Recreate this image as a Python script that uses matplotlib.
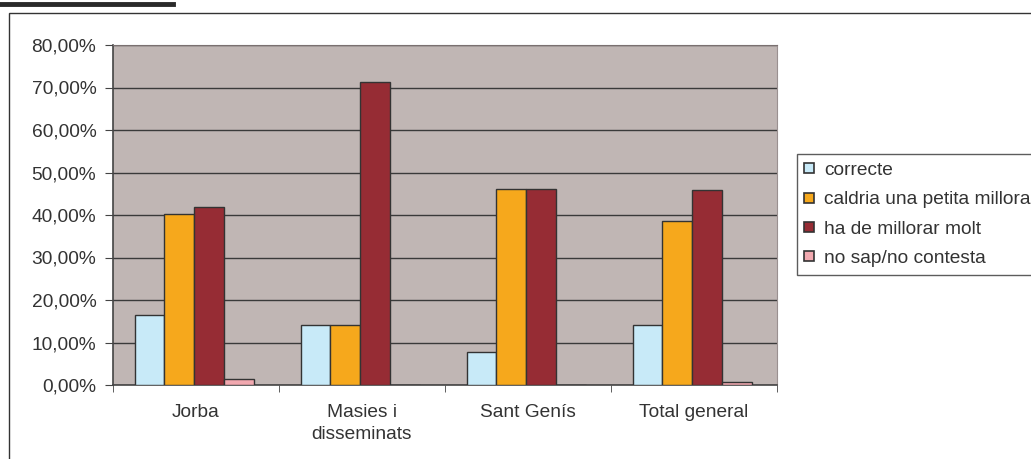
import numpy as np
import matplotlib.pyplot as plt
from matplotlib.patches import Rectangle
from matplotlib.lines import Line2D

plt.rcParams['font.family'] = ['Liberation Sans', 'DejaVu Sans']

categories = ["Jorba", "Masies i\ndisseminats", "Sant Genís", "Total general"]
series_names = ["correcte", "caldria una petita millora", "ha de millorar molt", "no sap/no contesta"]
correcte = [16.4, 14.2, 7.7, 14.2]
petita = [40.3, 14.2, 46.1, 38.5]
molt = [41.8, 71.4, 46.1, 46.0]
no_sap = [1.4, 0.0, 0.0, 0.8]
colors = ["#C8EAF8", "#F6A81C", "#962C34", "#F2A9B0"]
yticks = [0, 10, 20, 30, 40, 50, 60, 70, 80]

fs = 13.8
txt = "#333333"

fig = plt.figure(figsize=(10.31, 4.59), dpi=100)
ax = fig.add_axes([113 / 1031, 1 - 385 / 459, 664 / 1031, 340 / 459])
ax.set_facecolor("#C0B6B4")

x = np.arange(len(categories))
w = 0.18
data = [correcte, petita, molt, no_sap]
for i, vals in enumerate(data):
    ax.bar(x - 0.5 + 0.13 + w * (i + 0.5), vals, w, color=colors[i],
           edgecolor="#333333", linewidth=1.0, label=series_names[i], zorder=3)

ax.set_xlim(-0.5, len(categories) - 0.5)
ax.set_ylim(0, 80)
ax.set_yticks(yticks)
ax.set_yticklabels(["%d,00%%" % v for v in yticks], fontsize=fs, color=txt)
ax.yaxis.grid(True, color="#3a3a3a", linewidth=1.0, zorder=1)
ax.set_axisbelow(True)

ax.set_xticks(x)
ax.set_xticklabels(categories, fontsize=fs, color=txt, linespacing=1.35)
ax.tick_params(axis="x", which="major", length=0, pad=14)
ax.set_xticks(np.arange(-0.5, len(categories)), minor=True)
ax.tick_params(axis="x", which="minor", length=5, color="#444444")
ax.tick_params(axis="y", length=6, color="#444444", pad=6)

for s in ["left", "bottom"]:
    ax.spines[s].set_color("#444444")
    ax.spines[s].set_linewidth(1.2)
ax.spines["top"].set_color("#7a7070")
ax.spines["right"].set_color("#9a9090")

handles = [Line2D([], [], marker="s", linestyle="none", markersize=6.5, markerfacecolor=c,
                  markeredgecolor="#333333", markeredgewidth=1.2) for c in colors]
leg = fig.legend(handles, series_names, loc="upper left", bbox_to_anchor=(797 / 1031, 1 - 154 / 459),
                 fontsize=fs, frameon=True, fancybox=False, handlelength=0.5,
                 handletextpad=0.5, labelspacing=0.62, borderpad=0.4, borderaxespad=0,
                 labelcolor=txt)
leg.get_frame().set_edgecolor("#333333")
leg.get_frame().set_linewidth(1.0)

# outer chart frame and heading rule
fig.add_artist(Rectangle((9 / 1031, -0.1), 1.1, 1.1 - 13 / 459, transform=fig.transFigure,
                         fill=False, edgecolor="#333333", linewidth=1.0))
fig.add_artist(Line2D([0, 173 / 1031], [1 - 4 / 459, 1 - 4 / 459], transform=fig.transFigure,
                      color="#2a2a2a", linewidth=3.5))

fig.savefig("out.png", dpi=100)
